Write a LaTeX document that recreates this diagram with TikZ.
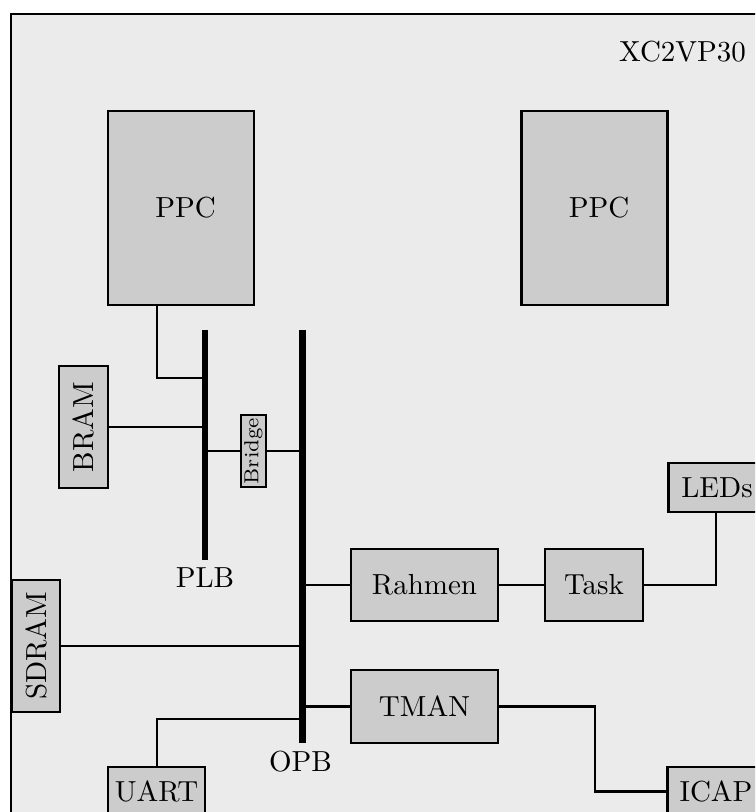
\documentclass[tikz,border=0pt]{standalone}
\usetikzlibrary{positioning}
\definecolor{bggray}{RGB}{235,235,235}
\definecolor{boxgray}{RGB}{204,204,204}
\tikzset{
  box/.style={draw, fill=boxgray, line width=0.85pt, inner sep=0pt},
  sz/.style 2 args={minimum width=#1*0.3448pt, minimum height=#2*0.3448pt},
  bus/.style={line width=2.4pt},
  wire/.style={line width=0.7pt},
  lbl/.style={inner sep=0pt}
}
\begin{document}
\begin{tikzpicture}[x=0.3448pt, y=-0.3448pt]
\useasboundingbox (0,0) rectangle (755,812);
\clip (0,0) rectangle (755,812);
% frame
\draw[line width=1pt, fill=bggray] (11,14) rectangle (900,950);
\node[lbl] (chip) at (682.5,52) {XC2VP30};
% boxes
\node[box, sz={146}{194}] (ppc1) at (181,208) {\hspace*{3.2pt}PPC};
\node[box, sz={146}{194}] (ppc2) at (594.5,208) {\hspace*{3.2pt}PPC};
\node[box, sz={49}{122}] (bram) at (83.5,427) {\rotatebox{90}{BRAM}};
\node[box, sz={25}{72}] (bridge) at (253.5,451) {\rotatebox{90}{\scriptsize Bridge}};
\node[box, sz={147}{72}] (rahmen) at (424.5,585) {Rahmen};
\node[box, sz={98}{72}] (task) at (594,585) {Task};
\node[box, sz={97}{49}] (leds) at (717,487.5) {LEDs};
\node[box, sz={48}{132}] (sdram) at (36,646) {\rotatebox{90}{SDRAM}};
\node[box, sz={147}{73}] (tman) at (424.5,706.5) {TMAN};
\node[box, sz={97}{49}] (uart) at (156.5,791.5) {UART};
\node[box, sz={97}{49}] (icap) at (716,791.5) {ICAP};
% buses
\coordinate (plbT) at (205,330);
\coordinate (plbB) at (205,560);
\coordinate (opbT) at (302.5,330);
\coordinate (opbB) at (302.5,743);
\draw[bus] (plbT) -- (plbB);
\draw[bus] (opbT) -- (opbB);
\node[lbl] (plb) at (205,578) {PLB};
\node[lbl] (opb) at (300.5,762) {OPB};
% connections
\coordinate (c1) at (205,378);
\draw[wire] (ppc1.south -| 157,0) |- (c1);
\coordinate (c2) at (205,427);
\draw[wire] (bram.east) -- (c2);
\coordinate (c3) at (205,451);
\coordinate (c4) at (302.5,451);
\draw[wire] (c3) -- (bridge.west);
\draw[wire] (bridge.east) -- (c4);
\coordinate (c5) at (302.5,585);
\draw[wire] (c5) -- (rahmen.west);
\draw[wire] (rahmen.east) -- (task.west);
\draw[wire] (task.east) -| (leds.south -| 716,0);
\coordinate (c6) at (302.5,646);
\draw[wire] (sdram.east) -- (c6);
\coordinate (c7) at (302.5,706.5);
\draw[wire] (c7) -- (tman.west);
\coordinate (c8) at (302.5,719);
\draw[wire] (uart.north -| 157,0) |- (c8);
\coordinate (c9) at (595,706.5);
\draw[wire] (tman.east) -- (c9) |- (icap.west);
\end{tikzpicture}
\end{document}
